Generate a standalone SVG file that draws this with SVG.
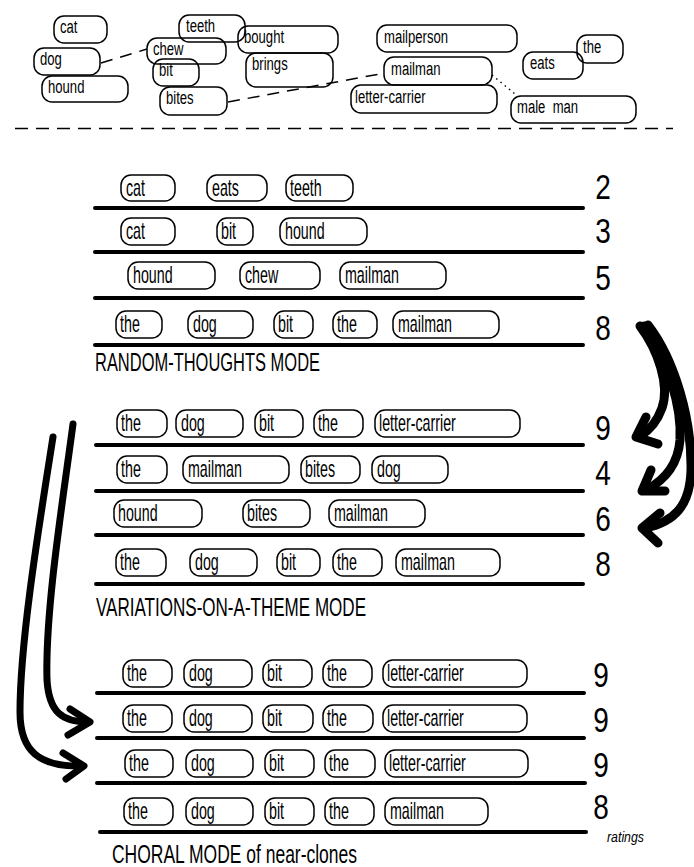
<svg xmlns="http://www.w3.org/2000/svg" width="694" height="867" viewBox="0 0 694 867">
<style>
rect{fill:none;stroke:#000;stroke-width:1.5}
text{font-family:"Liberation Sans",Arial,sans-serif;fill:#000}
.s text{font-size:19px;transform-box:fill-box;transform-origin:0 0;transform:scaleX(.69)}
.r text{font-size:23px;transform-box:fill-box;transform-origin:0 0;transform:scaleX(.62)}
.num{font-size:35px;text-anchor:middle;transform-box:fill-box;transform-origin:50% 0;transform:scaleX(.8)}
.lab{font-size:25px}
.rule{stroke:#000;stroke-width:4;stroke-linecap:round}
.dash{fill:none;stroke:#000;stroke-width:1.5;stroke-dasharray:12 8}
.arr{fill:none;stroke:#000;stroke-linecap:round;stroke-linejoin:round}
</style>
<rect x="0" y="0" width="694" height="867" style="fill:#fff;stroke:none"/>

<g id="connectors">
<line class="dash" x1="101" y1="63" x2="147" y2="49"/>
<line class="dash" x1="228" y1="102" x2="385" y2="73"/>
<line x1="492" y1="75" x2="515" y2="94" style="stroke:#000;stroke-width:1.5;stroke-dasharray:1.5 4"/>
<line x1="15" y1="128.5" x2="673" y2="128.5" style="stroke:#000;stroke-width:1.5;stroke-dasharray:13 8"/>
<g class="arr" stroke-width="9">
<path d="M640 326 C658 350 670 385 662 408 C657 422 650 430 640 436"/>
<path d="M646 417 L636 437 L658 444"/>
<path d="M644 326 C665 360 682 400 680 440 C678 465 665 480 646 490"/>
<path d="M651 470 L642 491 L665 491"/>
<path d="M648 325 C675 360 692 420 691 470 C690 505 675 522 645 528"/>
<path d="M660 513 L642 528 L658 543"/>
</g>
<g class="arr" stroke-width="7">
<path d="M73 424 C63 500 45 610 47 680 C49 712 62 722 88 722"/>
<path d="M70 709 L90 722 L68 735"/>
<path d="M53 437 C40 520 20 640 20 712 C20 752 40 767 82 766"/>
<path d="M63 753 L84 766 L66 779"/>
</g>
</g>

<g class="s">
<g id="t-cat"><rect x="54" y="16" width="53" height="27" rx="10"/><text x="60" y="33.5">cat</text></g>
<g id="t-dog"><rect x="34" y="48" width="66" height="27" rx="10"/><text x="40" y="65.5">dog</text></g>
<g id="t-hound"><rect x="42" y="76" width="86" height="26" rx="10"/><text x="48" y="93.5">hound</text></g>
<g id="t-teeth"><rect x="179" y="15" width="66" height="27" rx="10"/><text x="186" y="32.5">teeth</text></g>
<g id="t-chew"><rect x="147" y="38" width="79" height="26" rx="10"/><text x="153" y="55.5">chew</text></g>
<g id="t-bit"><rect x="153" y="59" width="46" height="27" rx="10"/><text x="159" y="76.5">bit</text></g>
<g id="t-bites"><rect x="160" y="87" width="67" height="28" rx="10"/><text x="166" y="104">bites</text></g>
<g id="t-bought"><rect x="238" y="26" width="100" height="27" rx="10"/><text x="244" y="43.5">bought</text></g>
<g id="t-brings"><rect x="246" y="53" width="87" height="34" rx="10"/><text x="252" y="70">brings</text></g>
<g id="t-mailperson"><rect x="377" y="25" width="140" height="27" rx="10"/><text x="384" y="43">mailperson</text></g>
<g id="t-mailman"><rect x="384" y="57" width="108" height="28" rx="10"/><text x="391" y="75">mailman</text></g>
<g id="t-letter-carrier"><rect x="351" y="85" width="146" height="28" rx="10"/><text x="355" y="103">letter-carrier</text></g>
<g id="t-eats"><rect x="523" y="52" width="60" height="27" rx="10"/><text x="530" y="69">eats</text></g>
<g id="t-the"><rect x="577" y="35" width="46" height="28" rx="10"/><text x="583" y="53">the</text></g>
<g id="t-male-man"><rect x="511" y="96" width="125" height="27" rx="10"/><text x="517" y="113" style="white-space:pre">male  man</text></g>
</g>

<g class="r">
<g id="a1-1"><rect x="121" y="175" width="54" height="26" rx="10"/><text x="126" y="196">cat</text></g>
<g id="a1-2"><rect x="207" y="175" width="60" height="26" rx="10"/><text x="212" y="196">eats</text></g>
<g id="a1-3"><rect x="286" y="175" width="67" height="26" rx="10"/><text x="290" y="196">teeth</text></g>
<g id="a2-1"><rect x="121" y="218" width="54" height="27" rx="10"/><text x="126" y="239">cat</text></g>
<g id="a2-2"><rect x="217" y="218" width="36" height="27" rx="10"/><text x="221" y="239">bit</text></g>
<g id="a2-3"><rect x="280" y="218" width="87" height="27" rx="10"/><text x="285" y="239">hound</text></g>
<g id="a3-1"><rect x="128" y="262" width="87" height="27" rx="10"/><text x="133" y="283">hound</text></g>
<g id="a3-2"><rect x="240" y="262" width="80" height="27" rx="10"/><text x="245" y="283">chew</text></g>
<g id="a3-3"><rect x="340" y="262" width="106" height="27" rx="10"/><text x="345" y="283">mailman</text></g>
<g id="a4-1"><rect x="116" y="311" width="46" height="27" rx="10"/><text x="120" y="332">the</text></g>
<g id="a4-2"><rect x="188" y="311" width="65" height="27" rx="10"/><text x="193" y="332">dog</text></g>
<g id="a4-3"><rect x="274" y="311" width="39" height="27" rx="10"/><text x="278" y="332">bit</text></g>
<g id="a4-4"><rect x="333" y="311" width="44" height="27" rx="10"/><text x="337" y="332">the</text></g>
<g id="a4-5"><rect x="393" y="311" width="106" height="27" rx="10"/><text x="398" y="332">mailman</text></g>

<g id="b1-1"><rect x="117" y="410" width="50" height="27" rx="10"/><text x="121" y="431">the</text></g>
<g id="b1-2"><rect x="176" y="410" width="67" height="27" rx="10"/><text x="181" y="431">dog</text></g>
<g id="b1-3"><rect x="255" y="410" width="48" height="27" rx="10"/><text x="259" y="431">bit</text></g>
<g id="b1-4"><rect x="314" y="410" width="49" height="27" rx="10"/><text x="318" y="431">the</text></g>
<g id="b1-5"><rect x="375" y="410" width="145" height="27" rx="10"/><text x="379" y="431">letter-carrier</text></g>
<g id="b2-1"><rect x="117" y="456" width="50" height="27" rx="10"/><text x="121" y="477">the</text></g>
<g id="b2-2"><rect x="183" y="456" width="106" height="27" rx="10"/><text x="188" y="477">mailman</text></g>
<g id="b2-3"><rect x="301" y="456" width="59" height="27" rx="10"/><text x="305" y="477">bites</text></g>
<g id="b2-4"><rect x="372" y="456" width="76" height="27" rx="10"/><text x="377" y="477">dog</text></g>
<g id="b3-1"><rect x="114" y="500" width="88" height="27" rx="10"/><text x="118" y="521">hound</text></g>
<g id="b3-2"><rect x="243" y="500" width="67" height="27" rx="10"/><text x="247" y="521">bites</text></g>
<g id="b3-3"><rect x="329" y="500" width="96" height="27" rx="10"/><text x="334" y="521">mailman</text></g>
<g id="b4-1"><rect x="116" y="549" width="50" height="27" rx="10"/><text x="120" y="570">the</text></g>
<g id="b4-2"><rect x="190" y="549" width="67" height="27" rx="10"/><text x="195" y="570">dog</text></g>
<g id="b4-3"><rect x="277" y="549" width="43" height="27" rx="10"/><text x="281" y="570">bit</text></g>
<g id="b4-4"><rect x="333" y="549" width="49" height="27" rx="10"/><text x="337" y="570">the</text></g>
<g id="b4-5"><rect x="396" y="549" width="104" height="27" rx="10"/><text x="401" y="570">mailman</text></g>

<g id="c1-1"><rect x="123" y="660" width="49" height="27" rx="10"/><text x="127" y="681">the</text></g>
<g id="c1-2"><rect x="184" y="660" width="68" height="27" rx="10"/><text x="189" y="681">dog</text></g>
<g id="c1-3"><rect x="263" y="660" width="49" height="27" rx="10"/><text x="267" y="681">bit</text></g>
<g id="c1-4"><rect x="323" y="660" width="49" height="27" rx="10"/><text x="327" y="681">the</text></g>
<g id="c1-5"><rect x="383" y="660" width="144" height="27" rx="10"/><text x="387" y="681">letter-carrier</text></g>
<g id="c2-1"><rect x="123" y="705" width="49" height="27" rx="10"/><text x="127" y="726">the</text></g>
<g id="c2-2"><rect x="184" y="705" width="68" height="27" rx="10"/><text x="189" y="726">dog</text></g>
<g id="c2-3"><rect x="263" y="705" width="50" height="27" rx="10"/><text x="267" y="726">bit</text></g>
<g id="c2-4"><rect x="323" y="705" width="50" height="27" rx="10"/><text x="327" y="726">the</text></g>
<g id="c2-5"><rect x="383" y="705" width="144" height="27" rx="10"/><text x="387" y="726">letter-carrier</text></g>
<g id="c3-1"><rect x="125" y="750" width="48" height="27" rx="10"/><text x="129" y="771">the</text></g>
<g id="c3-2"><rect x="186" y="750" width="67" height="27" rx="10"/><text x="191" y="771">dog</text></g>
<g id="c3-3"><rect x="265" y="750" width="49" height="27" rx="10"/><text x="269" y="771">bit</text></g>
<g id="c3-4"><rect x="325" y="750" width="50" height="27" rx="10"/><text x="329" y="771">the</text></g>
<g id="c3-5"><rect x="385" y="750" width="143" height="27" rx="10"/><text x="389" y="771">letter-carrier</text></g>
<g id="c4-1"><rect x="124" y="798" width="49" height="27" rx="10"/><text x="128" y="819">the</text></g>
<g id="c4-2"><rect x="186" y="798" width="67" height="27" rx="10"/><text x="191" y="819">dog</text></g>
<g id="c4-3"><rect x="265" y="798" width="49" height="27" rx="10"/><text x="269" y="819">bit</text></g>
<g id="c4-4"><rect x="325" y="798" width="49" height="27" rx="10"/><text x="329" y="819">the</text></g>
<g id="c4-5"><rect x="385" y="798" width="103" height="27" rx="10"/><text x="390" y="819">mailman</text></g>
</g>

<g id="rules">
<line class="rule" x1="95" y1="208" x2="583" y2="208"/>
<line class="rule" x1="95" y1="252" x2="583" y2="252"/>
<line class="rule" x1="95" y1="298" x2="583" y2="298"/>
<line class="rule" x1="95" y1="345" x2="583" y2="345"/>
<line class="rule" x1="96" y1="445" x2="583" y2="445"/>
<line class="rule" x1="96" y1="491" x2="583" y2="491"/>
<line class="rule" x1="96" y1="535" x2="583" y2="535"/>
<line class="rule" x1="96" y1="584" x2="583" y2="584"/>
<line class="rule" x1="97" y1="693" x2="584" y2="693"/>
<line class="rule" x1="97" y1="738" x2="584" y2="738"/>
<line class="rule" x1="97" y1="783" x2="585" y2="783"/>
<line class="rule" x1="100" y1="832" x2="586" y2="832"/>
</g>

<g id="ratings">
<text class="num" x="603" y="199">2</text>
<text class="num" x="603" y="243">3</text>
<text class="num" x="603" y="290">5</text>
<text class="num" x="603" y="340">8</text>
<text class="num" x="603" y="440">9</text>
<text class="num" x="603" y="485">4</text>
<text class="num" x="603" y="531">6</text>
<text class="num" x="603" y="576">8</text>
<text class="num" x="601" y="687">9</text>
<text class="num" x="601" y="732">9</text>
<text class="num" x="601" y="777">9</text>
<text class="num" x="601" y="819">8</text>
<text x="607" y="842" font-size="14" font-style="italic" textLength="37" lengthAdjust="spacingAndGlyphs">ratings</text>
</g>

<g id="labels">
<text class="lab" x="95" y="371" textLength="225" lengthAdjust="spacingAndGlyphs">RANDOM-THOUGHTS MODE</text>
<text class="lab" x="96" y="616" textLength="270" lengthAdjust="spacingAndGlyphs">VARIATIONS-ON-A-THEME MODE</text>
<text class="lab" x="112" y="863" font-size="27" textLength="245" lengthAdjust="spacingAndGlyphs">CHORAL MODE of near-clones</text>
</g>
</svg>
